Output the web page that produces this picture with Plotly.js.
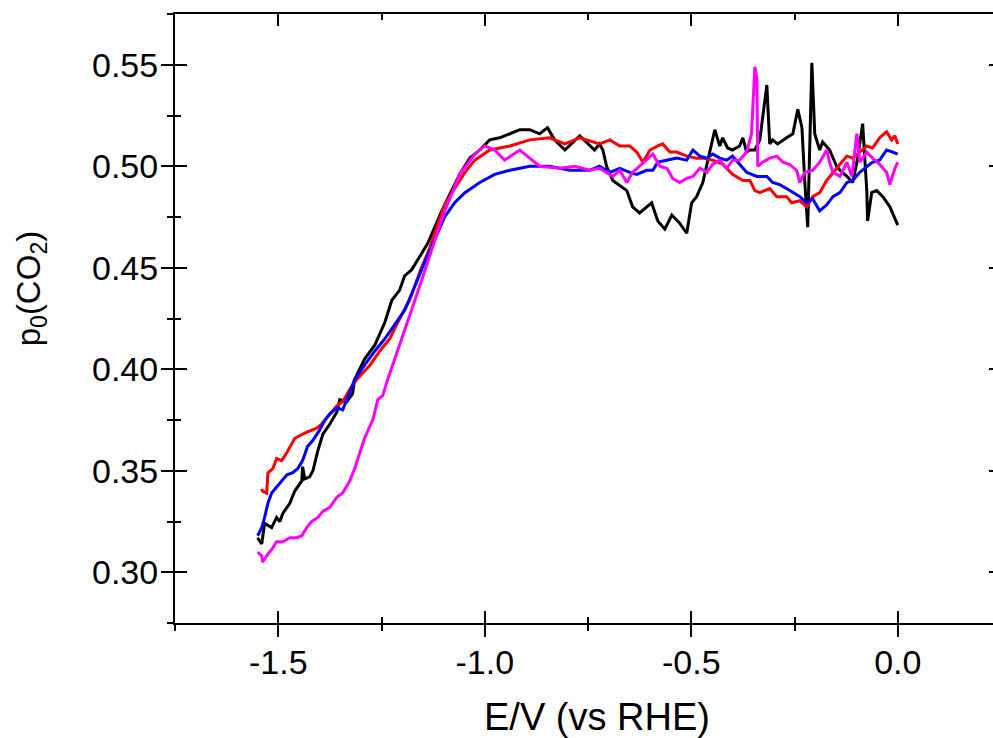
<!DOCTYPE html>
<html><head><meta charset="utf-8">
<script src="https://cdn.plot.ly/plotly-3.0.1.min.js"></script>
<style>html,body{margin:0;padding:0;overflow:hidden;background:#fff}#chart{width:1010px;height:738px}</style>
</head><body><div id="chart"></div>
<script>
// ---- data (E / V vs RHE, p0(CO2)) ----
const blackX = [-1.550,-1.540,-1.533,-1.516,-1.504,-1.496,-1.489,-1.472,-1.460,-1.443,-1.441,-1.436,-1.424,-1.416,-1.404,-1.392,-1.375,-1.358,-1.351,-1.334,-1.320,-1.315,-1.291,-1.266,-1.242,-1.225,-1.206,-1.194,-1.177,-1.157,-1.138,-1.121,-1.104,-1.085,-1.061,-1.036,-1.012,-0.988,-0.964,-0.939,-0.915,-0.891,-0.867,-0.848,-0.831,-0.806,-0.770,-0.734,-0.722,-0.714,-0.705,-0.690,-0.656,-0.642,-0.625,-0.596,-0.581,-0.564,-0.547,-0.528,-0.511,-0.499,-0.487,-0.472,-0.460,-0.443,-0.431,-0.424,-0.412,-0.400,-0.383,-0.375,-0.366,-0.358,-0.346,-0.334,-0.317,-0.310,-0.303,-0.291,-0.269,-0.254,-0.242,-0.232,-0.225,-0.218,-0.208,-0.201,-0.189,-0.182,-0.165,-0.148,-0.140,-0.123,-0.109,-0.097,-0.085,-0.075,-0.073,-0.063,-0.051,-0.036,-0.019,0.000];
const blackY = [0.317,0.314,0.324,0.322,0.327,0.325,0.329,0.334,0.340,0.345,0.352,0.346,0.347,0.350,0.360,0.368,0.373,0.379,0.385,0.384,0.388,0.395,0.405,0.412,0.423,0.434,0.439,0.446,0.449,0.456,0.462,0.470,0.478,0.486,0.496,0.504,0.508,0.513,0.514,0.516,0.518,0.518,0.516,0.519,0.513,0.508,0.515,0.508,0.511,0.508,0.500,0.493,0.488,0.480,0.477,0.482,0.473,0.469,0.476,0.472,0.467,0.482,0.485,0.492,0.503,0.518,0.510,0.514,0.509,0.508,0.510,0.514,0.507,0.508,0.508,0.513,0.540,0.511,0.513,0.511,0.514,0.516,0.528,0.519,0.492,0.470,0.551,0.516,0.508,0.512,0.508,0.500,0.498,0.495,0.492,0.504,0.521,0.488,0.473,0.487,0.488,0.485,0.480,0.471];

const redX = [-1.540,-1.538,-1.528,-1.525,-1.513,-1.504,-1.492,-1.479,-1.460,-1.443,-1.431,-1.407,-1.395,-1.383,-1.375,-1.358,-1.344,-1.327,-1.310,-1.278,-1.254,-1.230,-1.206,-1.182,-1.157,-1.133,-1.109,-1.097,-1.073,-1.048,-1.024,-0.988,-0.939,-0.891,-0.843,-0.806,-0.770,-0.722,-0.697,-0.673,-0.649,-0.632,-0.617,-0.600,-0.581,-0.569,-0.552,-0.535,-0.511,-0.487,-0.472,-0.448,-0.424,-0.400,-0.375,-0.358,-0.346,-0.334,-0.310,-0.293,-0.269,-0.257,-0.237,-0.220,-0.206,-0.189,-0.172,-0.157,-0.140,-0.123,-0.109,-0.092,-0.075,-0.061,-0.044,-0.027,-0.015,-0.007,0.000];
const redY = [0.341,0.340,0.339,0.349,0.351,0.356,0.355,0.359,0.366,0.368,0.369,0.371,0.373,0.376,0.378,0.382,0.384,0.390,0.395,0.402,0.409,0.415,0.425,0.434,0.448,0.460,0.474,0.481,0.489,0.497,0.503,0.508,0.510,0.513,0.514,0.511,0.514,0.511,0.513,0.510,0.510,0.507,0.502,0.508,0.510,0.511,0.507,0.507,0.505,0.504,0.504,0.503,0.501,0.496,0.493,0.493,0.488,0.487,0.489,0.485,0.485,0.482,0.483,0.480,0.485,0.487,0.493,0.497,0.501,0.505,0.504,0.507,0.510,0.509,0.514,0.517,0.513,0.515,0.511];

const blueX = [-1.550,-1.540,-1.533,-1.525,-1.516,-1.504,-1.496,-1.479,-1.465,-1.453,-1.441,-1.429,-1.416,-1.400,-1.387,-1.375,-1.358,-1.344,-1.332,-1.315,-1.291,-1.266,-1.242,-1.218,-1.194,-1.169,-1.145,-1.121,-1.097,-1.073,-1.048,-1.012,-0.976,-0.939,-0.891,-0.843,-0.794,-0.746,-0.722,-0.697,-0.673,-0.649,-0.632,-0.608,-0.593,-0.581,-0.559,-0.535,-0.511,-0.496,-0.479,-0.462,-0.448,-0.431,-0.414,-0.400,-0.383,-0.366,-0.341,-0.317,-0.303,-0.286,-0.269,-0.254,-0.237,-0.220,-0.206,-0.189,-0.172,-0.157,-0.140,-0.123,-0.109,-0.092,-0.075,-0.061,-0.044,-0.027,-0.012,0.000];
const blueY = [0.318,0.322,0.327,0.334,0.339,0.342,0.344,0.348,0.349,0.351,0.355,0.362,0.365,0.370,0.375,0.378,0.381,0.380,0.386,0.395,0.402,0.409,0.415,0.422,0.429,0.441,0.453,0.464,0.475,0.482,0.487,0.492,0.496,0.498,0.500,0.500,0.498,0.498,0.500,0.497,0.499,0.497,0.496,0.498,0.498,0.502,0.503,0.504,0.503,0.508,0.505,0.504,0.506,0.504,0.503,0.505,0.501,0.497,0.495,0.495,0.492,0.491,0.489,0.487,0.485,0.482,0.484,0.478,0.481,0.485,0.487,0.492,0.493,0.497,0.500,0.502,0.503,0.508,0.507,0.506];

const pinkX = [-1.550,-1.540,-1.538,-1.525,-1.513,-1.504,-1.489,-1.472,-1.455,-1.443,-1.431,-1.419,-1.404,-1.392,-1.375,-1.358,-1.344,-1.327,-1.315,-1.303,-1.291,-1.278,-1.271,-1.259,-1.247,-1.235,-1.206,-1.169,-1.133,-1.097,-1.061,-1.024,-1.000,-0.976,-0.952,-0.915,-0.867,-0.818,-0.782,-0.746,-0.722,-0.705,-0.690,-0.673,-0.656,-0.642,-0.625,-0.608,-0.593,-0.576,-0.559,-0.545,-0.528,-0.511,-0.496,-0.479,-0.462,-0.448,-0.431,-0.414,-0.400,-0.383,-0.366,-0.354,-0.346,-0.341,-0.339,-0.327,-0.310,-0.293,-0.278,-0.262,-0.245,-0.237,-0.225,-0.206,-0.189,-0.172,-0.165,-0.157,-0.140,-0.123,-0.111,-0.099,-0.092,-0.075,-0.061,-0.044,-0.027,-0.019,-0.007,0.000];
const pinkY = [0.310,0.308,0.305,0.309,0.312,0.315,0.315,0.317,0.317,0.318,0.322,0.325,0.327,0.330,0.332,0.337,0.339,0.345,0.351,0.358,0.366,0.372,0.375,0.385,0.387,0.395,0.412,0.434,0.456,0.478,0.496,0.506,0.510,0.508,0.503,0.508,0.500,0.499,0.500,0.498,0.499,0.497,0.495,0.498,0.492,0.497,0.500,0.503,0.506,0.500,0.499,0.494,0.492,0.494,0.495,0.499,0.497,0.501,0.503,0.499,0.503,0.503,0.507,0.516,0.549,0.543,0.500,0.502,0.504,0.505,0.502,0.501,0.498,0.492,0.497,0.498,0.502,0.508,0.502,0.497,0.495,0.502,0.495,0.516,0.502,0.507,0.504,0.501,0.497,0.491,0.499,0.502];

const xTicks = [-1.5, -1.0, -0.5, 0.0];
const xTickText = ['-1.5', '-1.0', '-0.5', '0.0'];
const yTicks = [0.30, 0.35, 0.40, 0.45, 0.50, 0.55];
const yTickText = ['0.30', '0.35', '0.40', '0.45', '0.50', '0.55'];
const xTitle = 'E/V (vs RHE)';
const yTitle = 'p<sub>0</sub>(CO<sub>2</sub>)';

const FONT = 'Arial, "Liberation Sans", sans-serif';
const lw = 3;
const mk = (x, y, c) => ({x, y, type:'scatter', mode:'lines', line:{color:c, width:lw}, hoverinfo:'skip', showlegend:false});
const traces = [
  mk(blackX, blackY, '#000000'),
  mk(redX, redY, '#ff0000'),
  mk(blueX, blueY, '#0000ff'),
  mk(pinkX, pinkY, '#ff00ff'),
  {x:[], y:[], xaxis:'x2', yaxis:'y2', type:'scatter', mode:'lines', showlegend:false}
];
const xr = [-1.75, 0.25], yr = [0.275, 0.575];
const tickFont = {family:FONT, size:34, color:'#000'};
const layout = {
  width:1010, height:738,
  margin:{l:175, r:9, t:14, b:115},
  paper_bgcolor:'#fff', plot_bgcolor:'#fff',
  showlegend:false,
  xaxis:{range:xr, showgrid:false, zeroline:false, showline:true, linecolor:'#000', linewidth:2, mirror:true,
    tickmode:'array', tickvals:xTicks, ticktext:xTickText, ticks:'outside', ticklen:12, tickwidth:2, tickcolor:'#000',
    tickfont:tickFont, ticklabelstandoff:-4,
    minor:{tickmode:'linear', tick0:-1.75, dtick:0.25, ticks:'outside', ticklen:6, tickwidth:2, tickcolor:'#000', showgrid:false}},
  yaxis:{range:yr, showgrid:false, zeroline:false, showline:true, linecolor:'#000', linewidth:2, mirror:true,
    tickmode:'array', tickvals:yTicks, ticktext:yTickText, ticks:'outside', ticklen:12, tickwidth:2, tickcolor:'#000',
    tickfont:tickFont, ticklabelstandoff:-4,
    minor:{tickmode:'linear', tick0:0.275, dtick:0.025, ticks:'outside', ticklen:6, tickwidth:2, tickcolor:'#000', showgrid:false}},
  xaxis2:{range:xr, overlaying:'x', anchor:'y2', showgrid:false, zeroline:false, showline:false, mirror:'ticks',
    tickmode:'array', tickvals:xTicks, ticks:'inside', ticklen:12, tickwidth:2, tickcolor:'#000', showticklabels:false,
    minor:{tickmode:'linear', tick0:-1.75, dtick:0.25, ticks:'inside', ticklen:6, tickwidth:2, tickcolor:'#000', showgrid:false}},
  yaxis2:{range:yr, overlaying:'y', anchor:'x2', showgrid:false, zeroline:false, showline:false, mirror:'ticks',
    tickmode:'array', tickvals:yTicks, ticks:'inside', ticklen:12, tickwidth:2, tickcolor:'#000', showticklabels:false,
    minor:{tickmode:'linear', tick0:0.275, dtick:0.025, ticks:'inside', ticklen:6, tickwidth:2, tickcolor:'#000', showgrid:false}},
  annotations:[
    {text:xTitle, xref:'paper', yref:'paper', x:0.511, y:-0.154, xanchor:'center', yanchor:'middle', showarrow:false,
     font:{family:FONT, size:38, color:'#000'}},
    {text:yTitle, xref:'paper', yref:'paper', x:-0.174, y:0.55, xanchor:'center', yanchor:'middle', showarrow:false, textangle:-90,
     font:{family:FONT, size:33, color:'#000'}}
  ]
};
Plotly.newPlot('chart', traces, layout, {staticPlot:true, displayModeBar:false});
</script></body></html>
